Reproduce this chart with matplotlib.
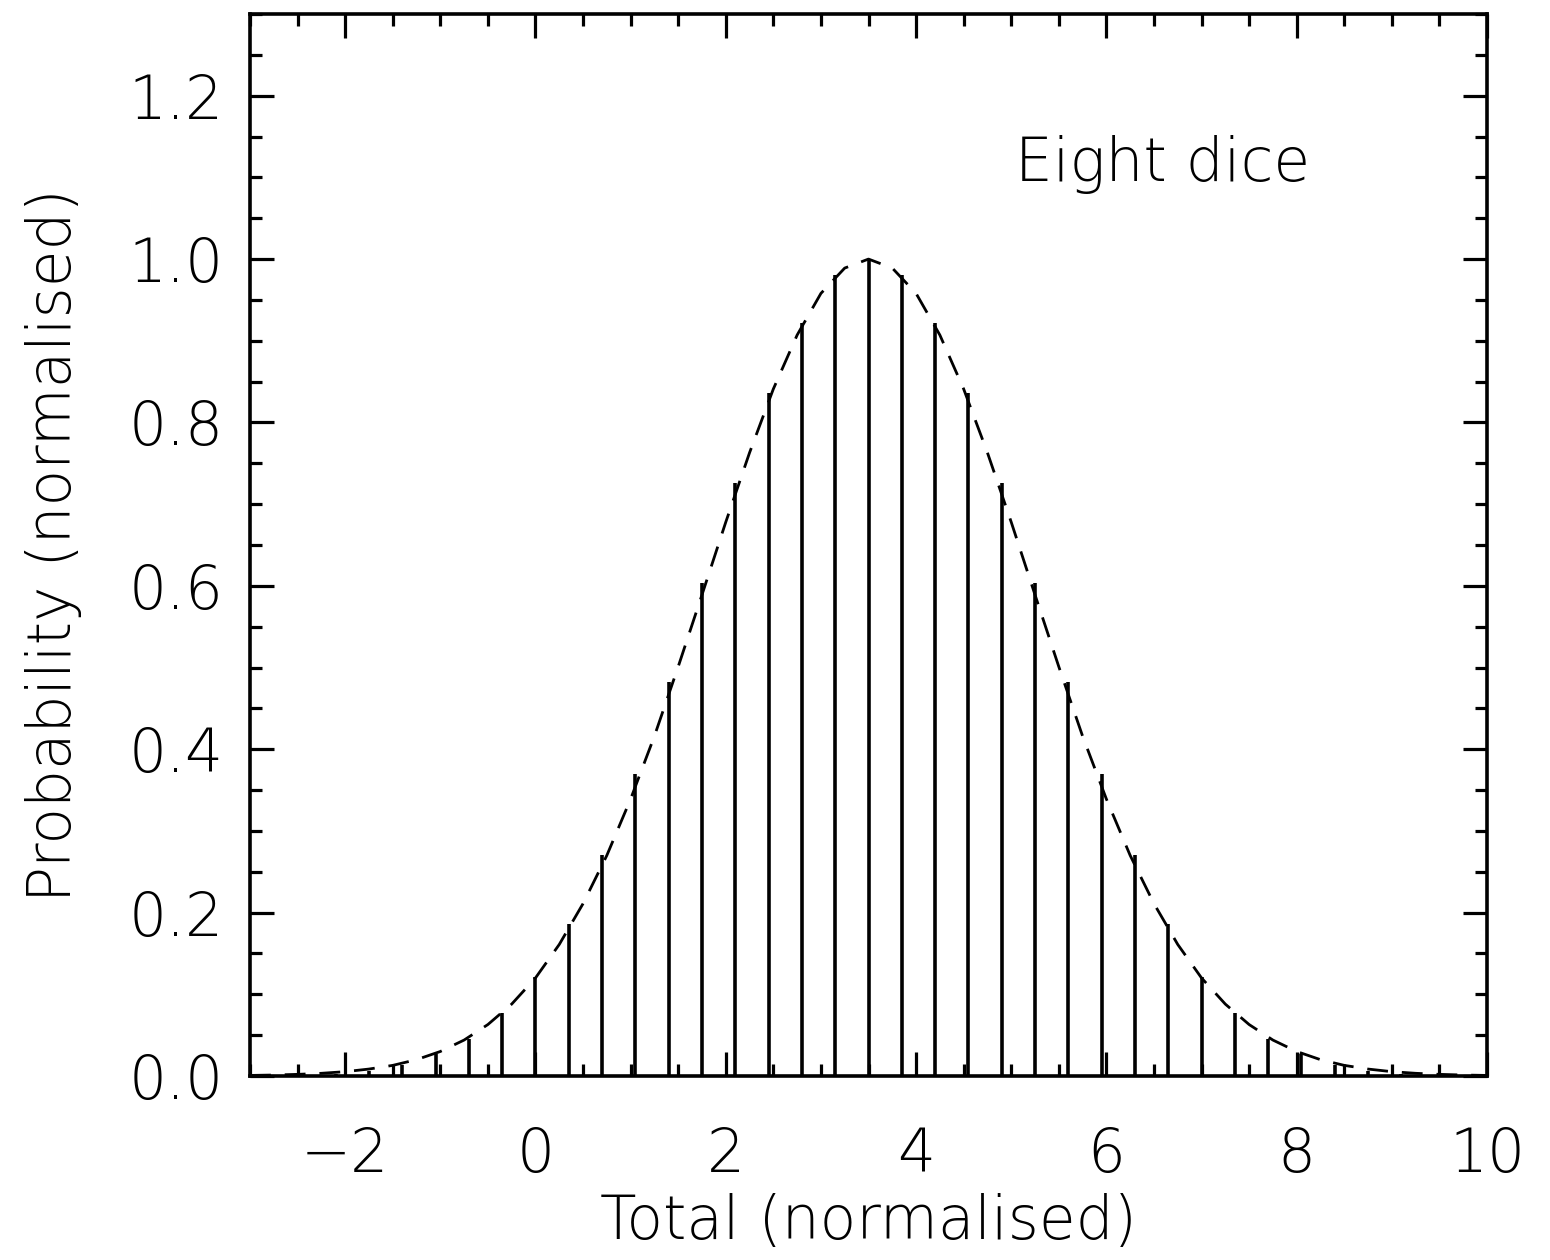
import matplotlib

matplotlib.use("Agg")
import matplotlib.pyplot as plt
from matplotlib.ticker import MultipleLocator

# normalised totals of eight dice and their normalised probabilities
bar_x = [-2.80, -2.45, -2.10, -1.75, -1.40, -1.05, -0.70, -0.35, 0.00, 0.35,
         0.70, 1.05, 1.40, 1.75, 2.10, 2.45, 2.80, 3.15, 3.50, 3.85,
         4.20, 4.55, 4.90, 5.25, 5.60, 5.95, 6.30, 6.65, 7.00, 7.35,
         7.70, 8.05, 8.40, 8.75, 9.10, 9.45, 9.80]
bar_p = [0.000, 0.001, 0.002, 0.006, 0.013, 0.027, 0.045, 0.077, 0.121, 0.186,
         0.270, 0.370, 0.482, 0.603, 0.726, 0.836, 0.922, 0.980, 1.000, 0.980,
         0.922, 0.836, 0.726, 0.603, 0.482, 0.370, 0.270, 0.186, 0.121, 0.077,
         0.045, 0.027, 0.013, 0.006, 0.002, 0.001, 0.000]

# dashed gaussian overlay
curve_x = [-3.00, -2.75, -2.50, -2.25, -2.00, -1.75, -1.50, -1.25, -1.00, -0.75,
           -0.50, -0.25, 0.00, 0.25, 0.50, 0.75, 1.00, 1.25, 1.50, 1.75,
           2.00, 2.25, 2.50, 2.75, 3.00, 3.25, 3.50, 3.75, 4.00, 4.25,
           4.50, 4.75, 5.00, 5.25, 5.50, 5.75, 6.00, 6.25, 6.50, 6.75,
           7.00, 7.25, 7.50, 7.75, 8.00, 8.25, 8.50, 8.75, 9.00, 9.25,
           9.50, 9.75, 10.00]
curve_p = [0.0007, 0.0012, 0.0020, 0.0033, 0.0053, 0.0085, 0.013, 0.020, 0.030, 0.044,
           0.063, 0.088, 0.120, 0.161, 0.211, 0.270, 0.339, 0.416, 0.501, 0.589,
           0.678, 0.763, 0.841, 0.907, 0.958, 0.989, 1.000, 0.989, 0.958, 0.907,
           0.841, 0.763, 0.678, 0.589, 0.501, 0.416, 0.339, 0.270, 0.211, 0.161,
           0.120, 0.088, 0.063, 0.044, 0.030, 0.020, 0.013, 0.0085, 0.0053, 0.0033,
           0.0020, 0.0012, 0.0007]

label_text = "Eight dice"

plt.rcParams["font.family"] = ["DejaVu Sans"]
plt.rcParams["font.weight"] = "light"
plt.rcParams["axes.labelweight"] = "light"
plt.rcParams["lines.scale_dashes"] = False
FS = 43

fig = plt.figure(figsize=(15.5, 12.6), dpi=100)
ax = fig.add_axes([250 / 1550, 184 / 1260, 1237 / 1550, 1062 / 1260])

ax.vlines(bar_x, 0, bar_p, color="black", linewidth=2.6)
ax.plot(curve_x, curve_p, color="black", linewidth=2.0, dashes=(15, 10))

ax.set_xlim(-3, 10)
ax.set_ylim(0, 1.3)
ax.xaxis.set_major_locator(MultipleLocator(2))
ax.xaxis.set_minor_locator(MultipleLocator(0.5))
ax.yaxis.set_major_locator(MultipleLocator(0.2))
ax.yaxis.set_minor_locator(MultipleLocator(0.05))
ax.yaxis.set_major_formatter(lambda v, p: f"{v:.1f}")

ax.tick_params(which="both", direction="in", top=True, right=True, width=2.3)
ax.tick_params(which="major", length=17)
ax.tick_params(which="minor", length=8.5)
ax.tick_params(axis="x", which="major", pad=36, labelsize=FS)
ax.tick_params(axis="y", which="major", pad=19, labelsize=FS)
for s in ax.spines.values():
    s.set_linewidth(2.6)

ax.set_xlabel("Total (normalised)", fontsize=FS, fontweight="light", va="center")
ax.xaxis.set_label_coords(0.5, -0.1375)
ax.set_ylabel("Probability (normalised)", fontsize=FS, fontweight="light", va="center")
ax.yaxis.set_label_coords(-0.158, 0.5)

ax.text(5.04, 1.095, label_text, fontsize=FS, fontweight="light", ha="left", va="baseline")

fig.savefig("out.png", dpi=100)
